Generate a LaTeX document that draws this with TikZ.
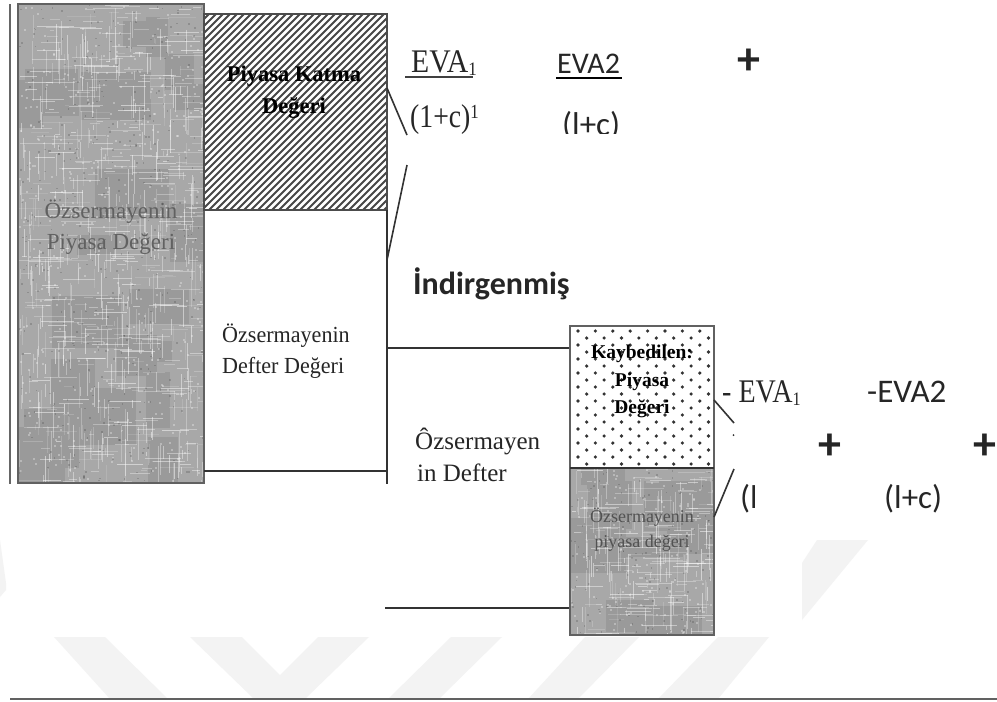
\documentclass[tikz,border=0pt]{standalone}
\usepackage{fontspec}
\usepackage{graphicx}
\setmainfont{Liberation Serif}
\newfontfamily\cali{Carlito}
\usetikzlibrary{calc}
\definecolor{wm}{HTML}{F3F3F3}
\definecolor{ink}{HTML}{333333}
\definecolor{basegray}{HTML}{A8A8A8}
\definecolor{blockgray}{HTML}{9A9A9A}
\newcommand{\fs}[1]{\fontsize{#1}{#1}\selectfont}
\newcommand{\nar}[2]{\scalebox{#1}[1]{#2}}
\newcommand{\mottle}[6]{% x0 y0 w h specks blocks
  \begin{scope}
    \clip (#1,#2) rectangle ++(#3,#4);
    \fill[basegray] (#1,#2) rectangle ++(#3,#4);
    \foreach \i in {1,...,#6}{
      \pgfmathsetmacro{\xa}{#1+rnd*#3-15}
      \pgfmathsetmacro{\ya}{#2+rnd*#4-15}
      \pgfmathsetmacro{\wa}{20+rnd*55}
      \pgfmathsetmacro{\ha}{15+rnd*45}
      \fill[blockgray] (\xa,\ya) rectangle ++(\wa,\ha);
    }
    \foreach \i in {1,...,#5}{
      \pgfmathsetmacro{\xa}{#1+rnd*#3}
      \pgfmathsetmacro{\ya}{#2+rnd*#4}
      \pgfmathsetmacro{\la}{4+rnd*34}
      \pgfmathsetmacro{\op}{.12+rnd*.38}
      \draw[white,line width=.9pt,opacity=\op] (\xa,\ya) -- ++(\la,0);
      \pgfmathsetmacro{\xb}{#1+rnd*#3}
      \pgfmathsetmacro{\yb}{#2+rnd*#4}
      \pgfmathsetmacro{\lb}{4+rnd*34}
      \draw[white,line width=.9pt,opacity=\op] (\xb,\yb) -- ++(0,\lb);
      \pgfmathsetmacro{\xc}{#1+rnd*#3}
      \pgfmathsetmacro{\yc}{#2+rnd*#4}
      \fill[white,opacity=.3] (\xc,\yc) rectangle ++(2,2);
      \pgfmathsetmacro{\xd}{#1+rnd*#3}
      \pgfmathsetmacro{\yd}{#2+rnd*#4}
      \fill[black,opacity=.15] (\xd,\yd) rectangle ++(1.6,1.6);
    }
  \end{scope}}
\tikzset{
  frameline/.style={draw=black!62,line width=1.6pt},
  thinline/.style={draw=ink,line width=1.6pt},
  scan/.style={font=\fs{23},inner sep=0pt,anchor=base,text=black!85},
  boldscan/.style={font=\bfseries\fs{22.5},inner sep=0pt,anchor=base,text=black},
  greyscan/.style={font=\fs{23},inner sep=0pt,anchor=base,text=black!62},
  calib/.style={font=\cali\fs{33},inner sep=0pt,anchor=base,text=black!85},
  serif/.style={font=\fs{33},inner sep=0pt,anchor=base,text=black!85},
  plus/.style={font=\cali\bfseries\fs{46},inner sep=0pt,text=black!85}
}
\begin{document}
\begin{tikzpicture}[x=1pt,y=-1pt]
\useasboundingbox (0,0) rectangle (997,702);
\fill[white] (0,0) rectangle (997,702);
% watermark
\fill[wm] (54,637) -- (105,637) -- (168,699) -- (110,699) -- cycle;
\fill[wm] (190,637) -- (242,637) -- (280,675) -- (318,637) -- (369,637) -- (305,699) -- (254,699) -- cycle;
\fill[wm] (451,637) -- (502,637) -- (439,699) -- (388,699) -- cycle;
\fill[wm] (585,637) -- (639,637) -- (578,699) -- (528,699) -- cycle;
\fill[wm] (718,637) -- (769,637) -- (718,699) -- (658,699) -- cycle;
\fill[wm] (817,540) -- (868,540) -- (802,620) -- (802,563) -- cycle;
\fill[wm] (0,540) -- (6,583) -- (6,590) -- (0,597) -- cycle;
% coordinates
\coordinate (hatchR) at (387,88);
\coordinate (bend1) at (407,135);
\coordinate (bend2) at (407,165);
\coordinate (rail) at (387,260);
\coordinate (railA) at (387,348);
\coordinate (railB) at (385,608);
\coordinate (boxA) at (570,348);
\coordinate (boxB) at (570,608);
\coordinate (smallR1) at (714,400);
\coordinate (tick1) at (734,423);
\coordinate (tick2) at (734,469);
\coordinate (smallR2) at (714,517);
% left rail
\draw[draw=black!60,line width=1.4pt] (10,4) -- (10,484);
% big grey
\pgfmathsetseed{7}
\mottle{18}{4}{186}{479}{420}{22}
\draw[frameline] (18,483) -- (18,4) -- (204,4) -- (204,483) -- cycle;
% hatch
\begin{scope}
  \clip (204,14) rectangle (387,210);
  \foreach \k in {0,7,...,400}{
    \draw[black!72,line width=2pt] (204+\k-200,212) -- (204+\k,12);
  }
\end{scope}
\draw[draw=black!70,line width=2pt] (204,14) rectangle (387,210);
% white box rails
\draw[thinline] (387,210) -- (387,484);
\draw[thinline] (204,471) -- (387,471);
% connectors
\draw[thinline] (hatchR) -- (bend1);
\draw[thinline] (bend2) -- (rail);
\draw[thinline] (railA) -- (boxA);
\draw[draw=ink,line width=2.2pt] (railB) -- (boxB);
% small box
\begin{scope}
  \clip (570,326) rectangle (714,468);
  \foreach \r in {0,...,20}{
    \pgfmathsetmacro{\off}{mod(\r,2)*8.7}
    \foreach \c in {0,...,8}{
      \fill[ink] (578+\off+\c*17.4,331+\r*7) circle[radius=1.8];
    }
  }
\end{scope}
\pgfmathsetseed{21}
\mottle{570}{468}{144}{167}{140}{9}
\draw[frameline] (570,326) rectangle (714,635);
\draw[draw=ink,line width=2pt] (570,468) -- (714,468);
\draw[thinline] (smallR1) -- (tick1);
\draw[thinline] (tick2) -- (smallR2);
\fill[ink] (733.5,435) circle[radius=1];
% bottom rule
\draw[draw=black!62,line width=2pt] (10,699) -- (997,699);
% box labels
\node[boldscan] (pk1) at (294,81) {Piyasa Katma};
\node[boldscan] (pk2) at (294,113) {Değeri};
\node[greyscan] (op1) at (111,218) {Özsermayenin};
\node[greyscan] (op2) at (111,249) {Piyasa Değeri};
\node[scan,anchor=base west] (dd1) at (222,342) {\nar{.96}{Özsermayenin}};
\node[scan,anchor=base west] (dd2) at (222,373) {\nar{.96}{Defter Değeri}};
\node[scan,font=\fs{25},anchor=base west] (od1) at (415,449) {Ôzsermayen};
\node[scan,font=\fs{25},anchor=base west] (od2) at (417,481) {in Defter};
\node[boldscan,font=\bfseries\fs{19.5}] (kp1) at (642,358) {Kaybedilen:};
\node[boldscan,font=\bfseries\fs{19.5}] (kp2) at (642,386) {Piyasa};
\node[boldscan,font=\bfseries\fs{19.5}] (kp3) at (642,413) {Değeri};
\node[greyscan,font=\fs{18},text=black!68] (pd1) at (642,522) {Özsermayenin};
\node[greyscan,font=\fs{18},text=black!68] (pd2) at (642,547) {piyasa değeri};
% formula text
\node[serif,anchor=base west] (eva1) at (411,72) {\nar{.9}{EVA\textsubscript{\fs{19}1}}};
\draw[draw=black!75,line width=1.5pt] (405,77) -- (473,77);
\node[serif,anchor=base west] (lc1) at (410,127) {\nar{.84}{(1+c)\raisebox{9pt}{\fs{20}1}}};
\node[calib,font=\cali\fs{30},anchor=base west] (eva2) at (557,73) {EVA2};
\draw[draw=black,line width=1.6pt] (556,78) -- (622,78);
\begin{scope}
  \clip (540,100) rectangle (640,133);
  \node[calib,anchor=base west] (lc2) at (562,135) {(l+c)};
\end{scope}
\node[plus] (p1) at (749,62) {+};
\node[font=\cali\bfseries\fs{32},inner sep=0pt,anchor=base west,text=black!85] (ind) at (413,294) {İndirgenmiş};
\node[serif,anchor=base west] (meva1) at (722,402) {\nar{.85}{- EVA\textsubscript{\fs{19}1}}};
\node[calib,anchor=base west] (meva2) at (867,402) {-EVA2};
\node[plus] (p2) at (830,447) {+};
\node[plus] (p3) at (985,447) {+};
\begin{scope}
  \clip (735,480) rectangle (754,520);
  \node[calib,anchor=base west] (lc3) at (740,508) {(l+c)};
\end{scope}
\node[calib,anchor=base west] (lc4) at (884,508) {(l+c)};
\end{tikzpicture}
\end{document}
